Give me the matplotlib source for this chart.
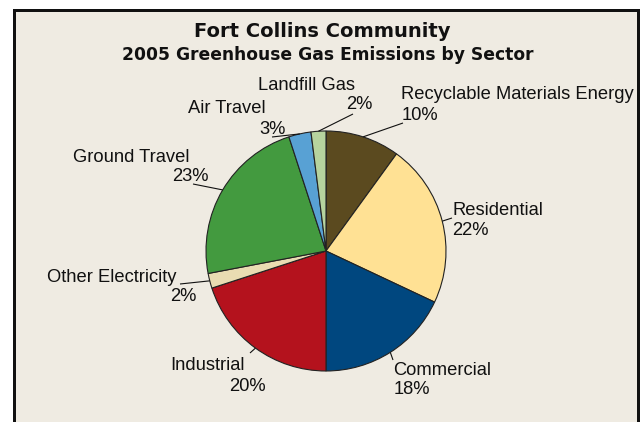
import matplotlib
matplotlib.use("Agg")
import matplotlib.pyplot as plt
from matplotlib.patches import Rectangle
import numpy as np

# Sector data (clockwise from 12 o'clock)
sectors = ["Recyclable Materials Energy", "Residential", "Commercial", "Industrial",
           "Other Electricity", "Ground Travel", "Air Travel", "Landfill Gas"]
shares = [10, 22, 18, 20, 2, 23, 3, 2]
colors = ["#5B4A1F", "#FFE194", "#00477F", "#B4121D",
          "#E9DCB2", "#439A3F", "#58A1D4", "#B6D39E"]

title = "Fort Collins Community"
subtitle = "2005 Greenhouse Gas Emissions by Sector"

W, H = 642, 422
BG = "#EFEBE2"
fig = plt.figure(figsize=(W / 100, H / 100), dpi=100)
fig.patch.set_facecolor("white")

# Chart frame
frame = Rectangle((13.5 / W, -20 / H), (637.5 - 13.5) / W, (H - 9.5 + 20) / H,
                  transform=fig.transFigure, facecolor=BG, edgecolor="#111111",
                  linewidth=3.0 * 72 / 100, zorder=-5)
fig.patches.append(frame)

# Pie axes: center (326, 251) px, radius 120 px
cx, cy, R = 326, 251, 120
span = 1.25 * R
ax = fig.add_axes([(cx - span) / W, (H - cy - span) / H, 2 * span / W, 2 * span / H],
                  zorder=2)
ax.set_facecolor("none")
wedges, _ = ax.pie(shares, colors=colors, startangle=90, counterclock=False,
                   radius=1.0,
                   wedgeprops=dict(edgecolor="#222222", linewidth=0.8))
ax.set_xlim(-1.25, 1.25)
ax.set_ylim(-1.25, 1.25)
ax.set_aspect("equal")
ax.axis("off")


def to_data(px, py):
    return (px - cx) / R, (cy - py) / R


# Label layout: (name line x, baseline y), (percent line x, baseline y), leader end
label_layout = {
    "Recyclable Materials Energy": ((401, 99), (402, 120), (403, 123)),
    "Residential": ((452, 215), (452, 235), (452, 218)),
    "Commercial": ((393, 375), (394, 394), (393, 360)),
    "Industrial": ((170, 370), (229, 391), (250, 353)),
    "Other Electricity": ((47, 282), (170, 301), (180, 284)),
    "Ground Travel": ((73, 162), (172, 181), (193, 184)),
    "Air Travel": ((188, 113), (259, 134), (272, 137)),
    "Landfill Gas": ((258, 90), (346, 109), (353, 114)),
}

font = "Liberation Sans"
fs = 13.2
for w, name, val in zip(wedges, sectors, shares):
    mid = np.deg2rad((w.theta1 + w.theta2) / 2)
    x0, y0 = np.cos(mid), np.sin(mid)
    (nx, ny), (vx, vy), (lx, ly) = label_layout[name]
    ex, ey = to_data(lx, ly)
    ax.plot([x0, ex], [y0, ey], color="#111111", lw=0.8, clip_on=False,
            solid_capstyle="butt")
    ax.text(*to_data(nx, ny), name, ha="left", va="baseline", fontsize=fs,
            family=font, color="#111111", clip_on=False)
    ax.text(*to_data(vx, vy), f"{val}%", ha="left", va="baseline", fontsize=fs,
            family=font, color="#111111", clip_on=False)

fig.text(322 / W, 1 - 37 / H, title, ha="center", va="baseline",
         fontsize=14, fontweight="bold", family="DejaVu Sans", color="#111111")
fig.text(327.5 / W, 1 - 60 / H, subtitle, ha="center", va="baseline",
         fontsize=12.3, fontweight="bold", family="DejaVu Sans", color="#111111")

fig.savefig("out.png", dpi=100, facecolor=fig.get_facecolor())
